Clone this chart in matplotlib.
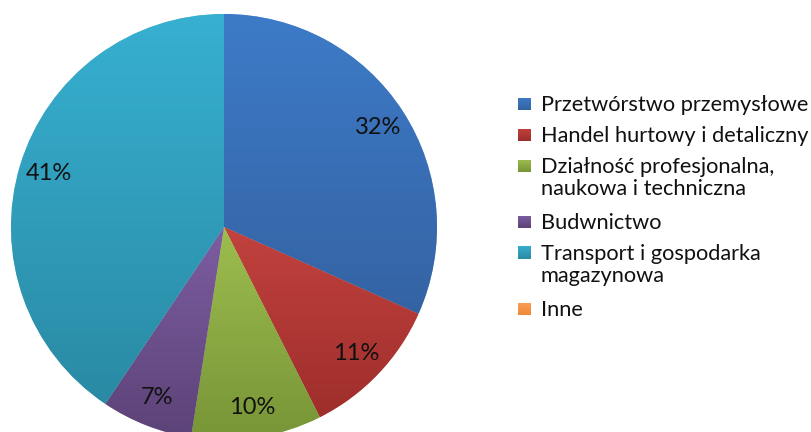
import numpy as np
import matplotlib
matplotlib.use("Agg")
import matplotlib.pyplot as plt
from matplotlib.colors import LinearSegmentedColormap

categories = ["Przetwórstwo przemysłowe", "Handel hurtowy i detaliczny",
              "Działność profesjonalna,\nnaukowa i techniczna", "Budwnictwo",
              "Transport i gospodarka\nmagazynowa", "Inne"]
values = [32, 11, 10, 7, 41, 0]
top_colors = ["#3D7BC8", "#C2423E", "#9DBD4F", "#7D5DA2", "#37B0D1", "#F9A05A"]
bottom_colors = ["#3463A3", "#9E2E2B", "#789537", "#5C4377", "#2A8AA4", "#F08A38"]
mid_colors = ["#386FB6", "#B03A36", "#8AA943", "#6C508D", "#319DBA", "#F79646"]

plt.rcParams['font.family'] = ['Lato', 'DejaVu Sans']

W, H = 811, 432
fig = plt.figure(figsize=(W / 100, H / 100), dpi=100)
ax = fig.add_axes([11 / W, (H - 440) / H, 426 / W, 426 / H])

wedges, texts, autotexts = ax.pie(
    values, colors=mid_colors, startangle=90, counterclock=False, radius=1,
    autopct=lambda p: f"{p:.0f}%" if p > 0 else "", pctdistance=0.86,
    wedgeprops=dict(edgecolor=(1, 1, 1, 0.5), linewidth=0.6),
    textprops=dict(fontsize=17, color="#111111"))

for w, tc, bc in zip(wedges, top_colors, bottom_colors):
    ext = w.get_path().get_extents()
    if ext.width <= 0 or ext.height <= 0:
        continue
    cmap = LinearSegmentedColormap.from_list("g", [tc, bc])
    grad = np.linspace(0, 1, 256)[:, None]
    im = ax.imshow(grad, cmap=cmap, extent=(ext.x0, ext.x1, ext.y0, ext.y1),
                   origin="upper", aspect="auto", zorder=w.get_zorder() + 0.1,
                   interpolation="bilinear")
    im.set_clip_path(w)

for t in autotexts:
    t.set_zorder(5)

ax.set_xlim(-1, 1)
ax.set_ylim(-1, 1)
ax.set_aspect("equal")
ax.axis("off")

# Legend drawn manually (Excel-style: square aligned with first text line)
sq = 13
line_h = 22
y_px = 104
for cat, tc, bc in zip(categories, top_colors, bottom_colors):
    lines = cat.split("\n")
    rect_ax = fig.add_axes([518 / W, (H - y_px - sq / 2) / H, sq / W, sq / H])
    cmap = LinearSegmentedColormap.from_list("g", [tc, bc])
    rect_ax.imshow(np.linspace(0, 1, 64)[:, None], cmap=cmap, aspect="auto",
                   interpolation="bilinear")
    rect_ax.axis("off")
    for k, line in enumerate(lines):
        fig.text(541 / W, (H - y_px - 7 - line_h * k) / H, line, fontsize=15.7,
                 color="#111111", va="baseline", ha="left")
    y_px += 31 + 25 * (len(lines) - 1)

fig.savefig("out.png", dpi=100)
